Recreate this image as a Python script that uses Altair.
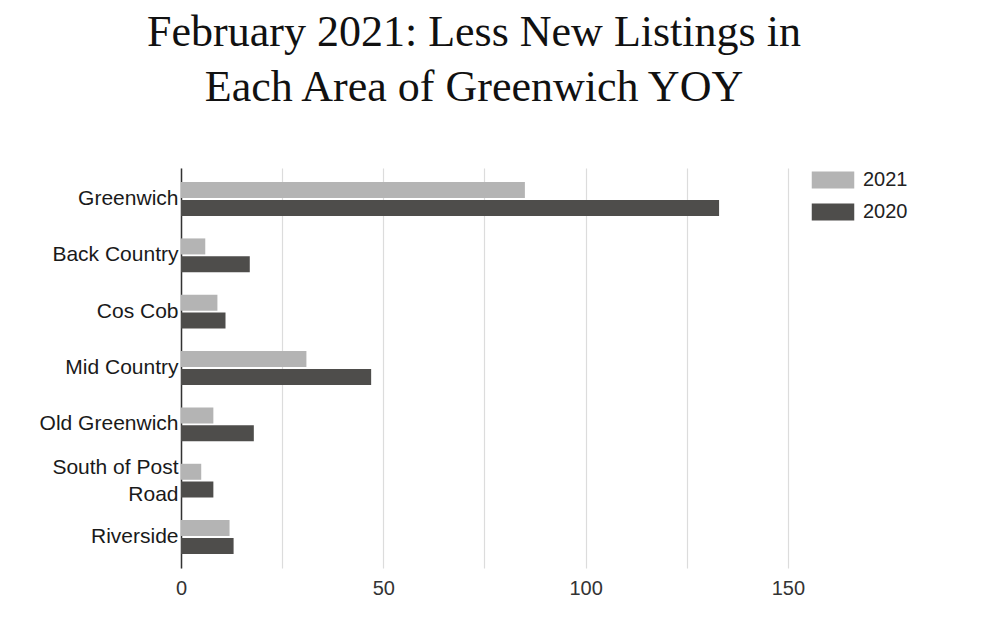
import altair as alt
import pandas as pd

areas = ["Greenwich", "Back Country", "Cos Cob", "Mid Country",
         "Old Greenwich", "South of Post Road", "Riverside"]
listings_2021 = [85, 6, 9, 31, 8, 5, 12]
listings_2020 = [133, 17, 11, 47, 18, 8, 13]
years = ["2021", "2020"]
colors = ["#b4b4b4", "#4e4d4b"]
x_ticks = [0, 25, 50, 75, 100, 125, 150]

rows = []
for a, v1, v2 in zip(areas, listings_2021, listings_2020):
    rows.append({"area": a, "year": "2021", "listings": v1})
    rows.append({"area": a, "year": "2020", "listings": v2})
df = pd.DataFrame(rows)

label_font = "Liberation Sans"

chart = alt.Chart(df).mark_bar().encode(
    x=alt.X("listings:Q",
            scale=alt.Scale(domain=[0, 175], nice=False),
            axis=alt.Axis(values=x_ticks,
                          labelExpr="datum.value % 50 == 0 ? datum.label : ''",
                          labelFlush=False,
                          title=None, domain=False, ticks=False, grid=True,
                          gridColor="#dcdcdc", gridWidth=1.2,
                          labelFont=label_font, labelFontSize=20,
                          labelColor="#333333", labelPadding=10)),
    y=alt.Y("area:N", sort=areas,
            scale=alt.Scale(paddingInner=0.4, paddingOuter=0.25),
            axis=alt.Axis(title=None, ticks=False, domainColor="#333333",
                          domainWidth=1.5,
                          labelExpr="datum.value == 'South of Post Road' ? ['South of Post', 'Road'] : datum.label",
                          labelOffset={"condition": {"test": "datum.value == 'South of Post Road'", "value": -13},
                                       "value": 0},
                          labelFont=label_font, labelFontSize=21,
                          labelColor="#1a1a1a", labelPadding=3,
                          labelLineHeight=27)),
    yOffset=alt.YOffset("year:N", sort=years,
                        scale=alt.Scale(paddingInner=0.1)),
    color=alt.Color("year:N", sort=years,
                    scale=alt.Scale(domain=years, range=colors),
                    legend=alt.Legend(title=None, orient="none",
                                      legendX=642, legendY=2,
                                      padding=0,
                                      symbolType="M-2.5,-1H2.5V1H-2.5Z",
                                      symbolSize=289, symbolStrokeWidth=0,
                                      symbolOpacity=1,
                                      labelOffset=20, rowPadding=12,
                                      labelFont=label_font, labelFontSize=20,
                                      labelColor="#222222")),
).properties(
    width=708, height=400,
    autosize="none",
    padding={"left": 173, "top": 160, "right": 80, "bottom": 60},
    title=alt.TitleParams(
        text=["February 2021: Less New Listings in", "Each Area of Greenwich YOY"],
        font="Liberation Serif", fontSize=44, fontWeight="normal",
        color="#111111", anchor="middle", offset=58, dx=-61, lineHeight=55),
).configure_view(stroke=None)

chart.save("out.html", embed_options={"renderer": "svg", "actions": False})
